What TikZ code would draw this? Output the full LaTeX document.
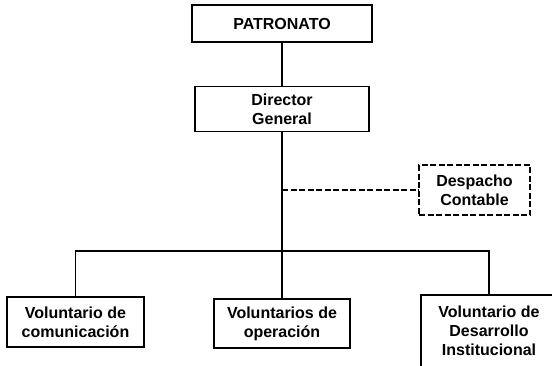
\documentclass[tikz,border=0pt]{standalone}
\usepackage{fontspec}
\setmainfont{Liberation Sans}
\usepackage{tikz}
\usetikzlibrary{positioning}

\begin{document}
\begin{tikzpicture}[
        x = 1pt, y = -1pt,
        line width = 1.3pt,
        puesto/.style = {
          draw,
          rectangle,
          align = center,
          inner sep = 0pt,
          font = \fontsize{16}{19}\selectfont\bfseries,
        },
        punteado/.style = {
          dash pattern = on 6pt off 2.5pt,
          line width = 1.8pt,
        }
      ]
        \useasboundingbox (0, 0) rectangle (552, 365);
        \clip (0, 0) rectangle (552, 365);

        \node [puesto, minimum width = 180, minimum height = 37] (patronato) at (282, 23.5) {
          PATRONATO};
        \node [puesto, minimum width = 174, minimum height = 45] (director) at (282, 109) {
          Director\\General};
        \node [puesto, punteado, minimum width = 111, minimum height = 50] (despacho) at (474.5, 190) {
          Despacho\\Contable};

        \node [puesto, minimum width = 137, minimum height = 50] (comunicacion) at (75.5, 322) {
          Voluntario de\\comunicaci\'on};
        \node [puesto, minimum width = 136, minimum height = 49] (operacion) at (282, 323.5) {
          Voluntarios de\\operaci\'on};
        \node [puesto, minimum width = 136, minimum height = 72] (desarrollo) at (489, 331) {
          Voluntario de\\Desarrollo\\Institucional};

        \coordinate (bus) at (282, 251);
        \coordinate (tap) at (director.south |- despacho.west);

        \draw (patronato) to (director);
        \draw (director) to (operacion);
        \draw (comunicacion.north) |- (bus) -| (desarrollo.north);
        \draw [punteado] (tap) to (despacho.west);
      \end{tikzpicture}
\end{document}
